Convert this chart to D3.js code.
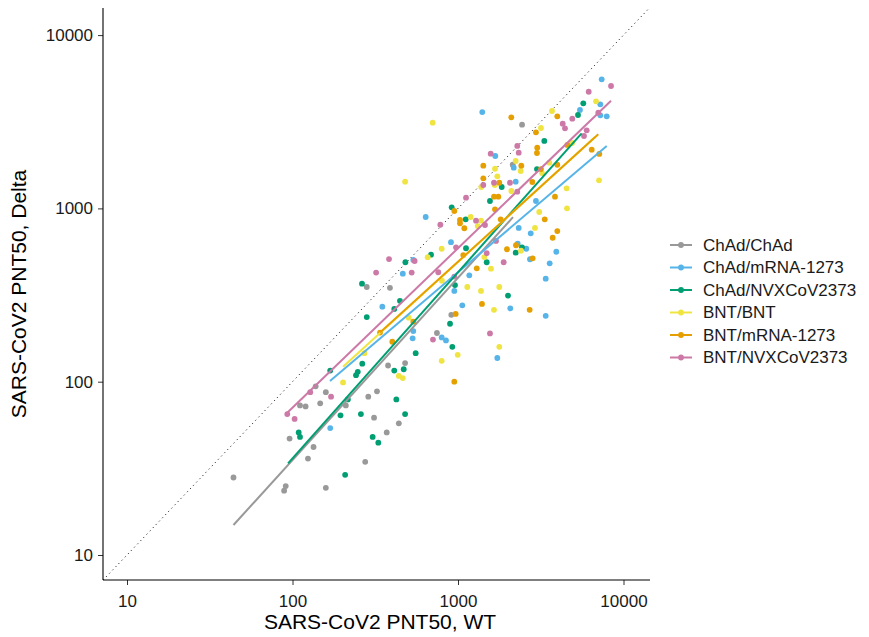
<!DOCTYPE html>
<html>
<head>
<meta charset="utf-8">
<script src="https://cdnjs.cloudflare.com/ajax/libs/d3/7.8.5/d3.min.js"></script>
<style>
  body { margin: 0; background: #fff; }
  text { font-family: "Liberation Sans", Arial, sans-serif; }
</style>
</head>
<body>
<script>
// PNT50 titres, WT vs Delta, per vaccine schedule
var groups = ["ChAd/ChAd", "ChAd/mRNA-1273", "ChAd/NVXCoV2373", "BNT/BNT", "BNT/mRNA-1273", "BNT/NVXCoV2373"];
var colors = ["#999999", "#56B4E9", "#009E73", "#F0E442", "#E69F00", "#CC79A7"];

var chadChadWT = [44, 91, 89, 159, 124, 275, 134, 96, 371, 439, 311, 111, 120, 147, 210, 287, 324, 159, 138, 378, 479, 746, 911, 281, 388, 2141, 2438];
var chadChadDelta = [28, 25, 23.5, 24.4, 36, 34.5, 42, 47, 51, 57.5, 62, 73, 72, 75, 73, 82, 88, 87, 94, 124, 128, 191, 243, 352, 348, 1786, 3041];

var chadModernaWT = [169, 532, 537, 797, 846, 1728, 349, 464, 537, 638, 907, 950, 1062, 1170, 2070, 3388, 3388, 3581, 3926, 2723, 2586, 2295, 2750, 2327, 2958, 2232, 2171, 1680, 1402, 5457, 7244, 7244, 7916, 7383];
var chadModernaDelta = [54, 178, 196, 180, 173, 137, 271, 420, 504, 892, 638, 334, 276, 411, 265, 240, 393, 482, 562, 509, 585, 626, 718, 771, 1103, 1426, 1718, 2006, 3597, 3698, 3988, 3444, 3400, 5559];

var chadNvxWT = [208, 330, 305, 109, 111, 195, 259, 479, 216, 424, 169, 248, 242, 412, 470, 264, 555, 924, 895, 281, 412, 446, 959, 263, 481, 687, 1118, 1491, 2232, 2438, 2005, 1113, 916, 1560, 1837, 3000, 3323, 5310, 5716];
var chadNvxDelta = [29, 44.5, 48, 51, 48, 64, 65, 65, 79, 79, 116, 114, 109, 116, 118, 127, 146, 159, 216, 236, 263, 293, 361, 368, 489, 541, 589, 489, 555, 596, 314, 865, 1015, 1103, 1329, 1687, 2450, 3460, 4042];

var bntBntWT = [202, 272, 439, 464, 797, 996, 1776, 504, 800, 1138, 1377, 1776, 1650, 1582, 1442, 656, 797, 1193, 1377, 1315, 2403, 2918, 3097, 4557, 4532, 3562, 3218, 2393, 2232, 3173, 3698, 4885, 6823, 7112, 2099, 1667, 1383, 1728, 1673, 703, 479];
var bntBntDelta = [99, 146, 108, 105, 132, 143, 159, 234, 383, 352, 334, 352, 260, 449, 524, 523, 585, 892, 849, 791, 570, 771, 953, 1001, 1306, 1835, 1600, 1644, 1877, 2911, 3648, 2385, 4150, 1452, 1260, 1365, 1329, 1531, 1694, 3123, 1426];

var bntModernaWT = [950, 338, 401, 537, 968, 1396, 2710, 1298, 1076, 950, 1028, 1028, 1092, 1673, 1811, 3342, 3981, 3733, 2241, 1977, 2826, 1650, 1752, 1422, 1776, 1422, 2413, 2812, 3000, 3012, 2958, 3173, 3981, 3855, 4575, 6427, 7140, 3981, 2099];
var bntModernaDelta = [100, 192, 170, 222, 246, 281, 260, 451, 538, 966, 857, 820, 768, 988, 865, 865, 740, 677, 613, 581, 515, 1168, 1168, 1492, 1406, 1764, 1764, 1420, 2088, 2241, 2748, 1687, 1786, 1168, 2323, 2182, 2062, 3400, 3355];

var bntNvxWT = [93, 103, 128, 171, 320, 383, 525, 547, 706, 760, 782, 973, 950, 1285, 1456, 1491, 1888, 1697, 1560, 1118, 1422, 1650, 2061, 2281, 1576, 2281, 2327, 4292, 4431, 4905, 5771, 5992, 6162, 7041, 8406];
var bntNvxDelta = [65, 61, 87, 82, 426, 510, 426, 497, 175, 428, 805, 596, 404, 849, 802, 551, 489, 649, 190, 1153, 1365, 1406, 1406, 1249, 2068, 2292, 2096, 3083, 2897, 3294, 2617, 2823, 4710, 3566, 5085];

// fitted line ends per group (WT start, WT end, Delta start, Delta end)
var fitWT0 = [44, 168.5, 94, 202, 338, 92.6];
var fitWT1 = [2150, 7916, 5585, 6730, 7041, 8406];
var fitDelta0 = [14.9, 101, 33.8, 122, 192, 65.9];
var fitDelta1 = [890, 2292, 2711, 2582, 2677, 4183];

var axisTicks = [10, 100, 1000, 10000];

var seriesWT = [chadChadWT, chadModernaWT, chadNvxWT, bntBntWT, bntModernaWT, bntNvxWT];
var seriesDelta = [chadChadDelta, chadModernaDelta, chadNvxDelta, bntBntDelta, bntModernaDelta, bntNvxDelta];

var width = 869, height = 637;
var panel = {left: 103, right: 650, top: 8, bottom: 580};

var svg = d3.select("body").append("svg")
    .attr("width", width)
    .attr("height", height);

var x = d3.scaleLog().domain([10, 10000]).range([127, 623.5]);
var y = d3.scaleLog().domain([10, 10000]).range([555, 35.1]);

// identity line, clipped to panel
var xLo = x.invert(panel.left), xHi = x.invert(panel.right);
var idLo = Math.max(xLo, y.invert(panel.bottom));
var idHi = Math.min(xHi, y.invert(panel.top));
svg.append("line")
    .attr("x1", x(idLo)).attr("y1", y(idLo))
    .attr("x2", x(idHi)).attr("y2", y(idHi))
    .attr("stroke", "#000")
    .attr("stroke-width", 1)
    .attr("stroke-dasharray", "1,3.5");

// points
seriesWT.forEach(function(xs, gi) {
    var pts = xs.map(function(v, i) { return [v, seriesDelta[gi][i]]; });
    svg.append("g").selectAll("circle")
        .data(pts)
        .enter()
        .append("circle")
            .attr("cx", function(d) { return x(d[0]); })
            .attr("cy", function(d) { return y(d[1]); })
            .attr("r", 2.9)
            .attr("fill", colors[gi]);
});

// fitted lines
groups.forEach(function(g, gi) {
    svg.append("line")
        .attr("x1", x(fitWT0[gi])).attr("y1", y(fitDelta0[gi]))
        .attr("x2", x(fitWT1[gi])).attr("y2", y(fitDelta1[gi]))
        .attr("stroke", colors[gi])
        .attr("stroke-width", 2);
});

// axes
var xAxis = d3.axisBottom(x).tickValues(axisTicks).tickFormat(d3.format("d")).tickSize(5).tickPadding(10);
var yAxis = d3.axisLeft(y).tickValues(axisTicks).tickFormat(d3.format("d")).tickSize(5).tickPadding(5);

var gx = svg.append("g")
    .attr("transform", "translate(0," + panel.bottom + ")")
    .call(xAxis);
var gy = svg.append("g")
    .attr("transform", "translate(" + panel.left + ",0)")
    .call(yAxis);

[gx, gy].forEach(function(g) {
    g.select(".domain").remove();
    g.selectAll(".tick line").attr("stroke", "#333");
    g.selectAll(".tick text")
        .attr("fill", "#1a1a1a")
        .style("font-size", "17px")
        .style("font-family", "'Liberation Sans', Arial, sans-serif");
});

svg.append("line")
    .attr("x1", panel.left).attr("x2", panel.right)
    .attr("y1", panel.bottom).attr("y2", panel.bottom)
    .attr("stroke", "#000").attr("stroke-width", 1.1);
svg.append("line")
    .attr("x1", panel.left).attr("x2", panel.left)
    .attr("y1", panel.top).attr("y2", panel.bottom)
    .attr("stroke", "#000").attr("stroke-width", 1.1);

// axis titles
svg.append("text")
    .attr("x", 380)
    .attr("y", 629)
    .attr("text-anchor", "middle")
    .style("font-size", "21px")
    .text("SARS-CoV2 PNT50, WT");

svg.append("text")
    .attr("transform", "translate(26," + ((panel.top + panel.bottom) / 2) + ") rotate(-90)")
    .attr("text-anchor", "middle")
    .style("font-size", "21px")
    .text("SARS-CoV2 PNT50, Delta");

// legend
var legend = svg.append("g")
    .attr("transform", "translate(670,245)");

groups.forEach(function(g, i) {
    var row = legend.append("g").attr("transform", "translate(0," + (i * 22.5) + ")");
    row.append("line")
        .attr("x1", 0).attr("x2", 22)
        .attr("stroke", colors[i])
        .attr("stroke-width", 2);
    row.append("circle")
        .attr("cx", 11).attr("r", 2.9)
        .attr("fill", colors[i]);
    row.append("text")
        .attr("x", 33)
        .attr("dy", "0.35em")
        .style("font-size", "17px")
        .attr("fill", "#1a1a1a")
        .text(g);
});
</script>
</body>
</html>
